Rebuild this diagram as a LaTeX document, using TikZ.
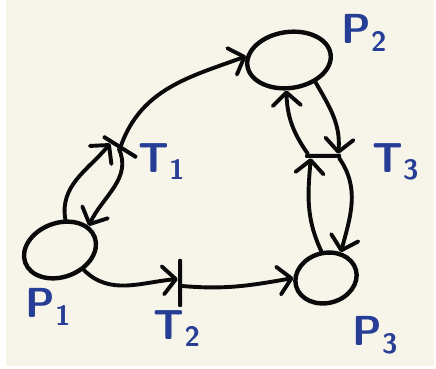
\documentclass[tikz,border=0pt]{standalone}
\usepackage{tikz}
\usetikzlibrary{arrows.meta,positioning,calc,shapes.geometric}
\definecolor{pnpaper}{RGB}{247,245,234}
\definecolor{pnink}{RGB}{10,10,10}
\definecolor{pnblue}{RGB}{38,62,150}
\newcommand{\lblsub}[1]{\raisebox{-0.18em}{\fontsize{28}{28}\selectfont #1}}
\tikzset{
  pnplace/.style={
    ellipse, draw=pnink, line width=4.4pt, inner sep=0pt
  },
  pntrans/.style={
    rectangle, fill=pnink, inner sep=0pt, rounded corners=1pt
  },
  lbl/.style={text=pnblue, font=\fontsize{42}{42}\selectfont\sffamily\bfseries, inner sep=0pt},
  arr/.style={-{Straight Barb[length=13pt,width=28pt,line width=3.9pt,round]},
    draw=pnink, line width=3.9pt, line cap=round}
}

\begin{document}
\begin{tikzpicture}[x=1pt,y=1pt]
  \fill[white] (0,0) rectangle (436,369);
  \fill[pnpaper] (6,3) rectangle (434,369);
  \useasboundingbox (0,0) rectangle (436,369);

  % places
  \node[pnplace, minimum width=74pt, minimum height=54pt, rotate=20] (p1) at (60,119) {};
  \node[pnplace, minimum width=84pt, minimum height=56pt, rotate=8] (p2) at (289,309) {};
  \node[pnplace, minimum width=62pt, minimum height=50pt, rotate=15] (p3) at (326,91) {};

  % transitions
  \node[pntrans, minimum width=40pt, minimum height=4pt, rotate=-32] (t1) at (120,222) {};
  \node[pntrans, minimum width=4pt, minimum height=48pt] (t2) at (180,86) {};
  \node[pntrans, minimum width=36pt, minimum height=4pt] (t3) at (323,213) {};

  % labels
  \node[lbl] (lp1) at (48,62) {P\lblsub{1}};
  \node[lbl] (lp2) at (364,336) {P\lblsub{2}};
  \node[lbl] (lp3) at (375,34) {P\lblsub{3}};
  \node[lbl, right=1pt of t1, yshift=-4pt] (lt1) {T\lblsub{1}};
  \node[lbl, below=3pt of t2, xshift=-3pt] (lt2) {T\lblsub{2}};
  \node[lbl, right=31pt of t3, yshift=-6pt] (lt3) {T\lblsub{3}};

  % arcs
  \draw[arr] (p1.60) to[out=100,in=230] ($(t1.south west)!0.25!(t1.south east)$);
  \draw[arr] (t1.south) to[out=-65,in=65] (p1.20);
  \draw[arr] (t1.north) to[out=70,in=200] (p2.167);
  \draw[arr] (p2.-48) to[out=-60,in=85] ([xshift=-3pt]t3.north east);
  \draw[arr] ([xshift=3pt]t3.north west) to[out=125,in=-88] (p2.257);
  \draw[arr] ([xshift=-2pt]t3.south east) to[out=-55,in=75] (p3.45);
  \draw[arr] (p3.85) to[out=115,in=-95] ([xshift=6pt]t3.south west);
  \draw[arr] (p1.-60) to[out=-45,in=185] ([yshift=4pt]t2.west);
  \draw[arr] ([yshift=-3pt]t2.east) to[out=-5,in=190] (p3.165);
\end{tikzpicture}
\end{document}
